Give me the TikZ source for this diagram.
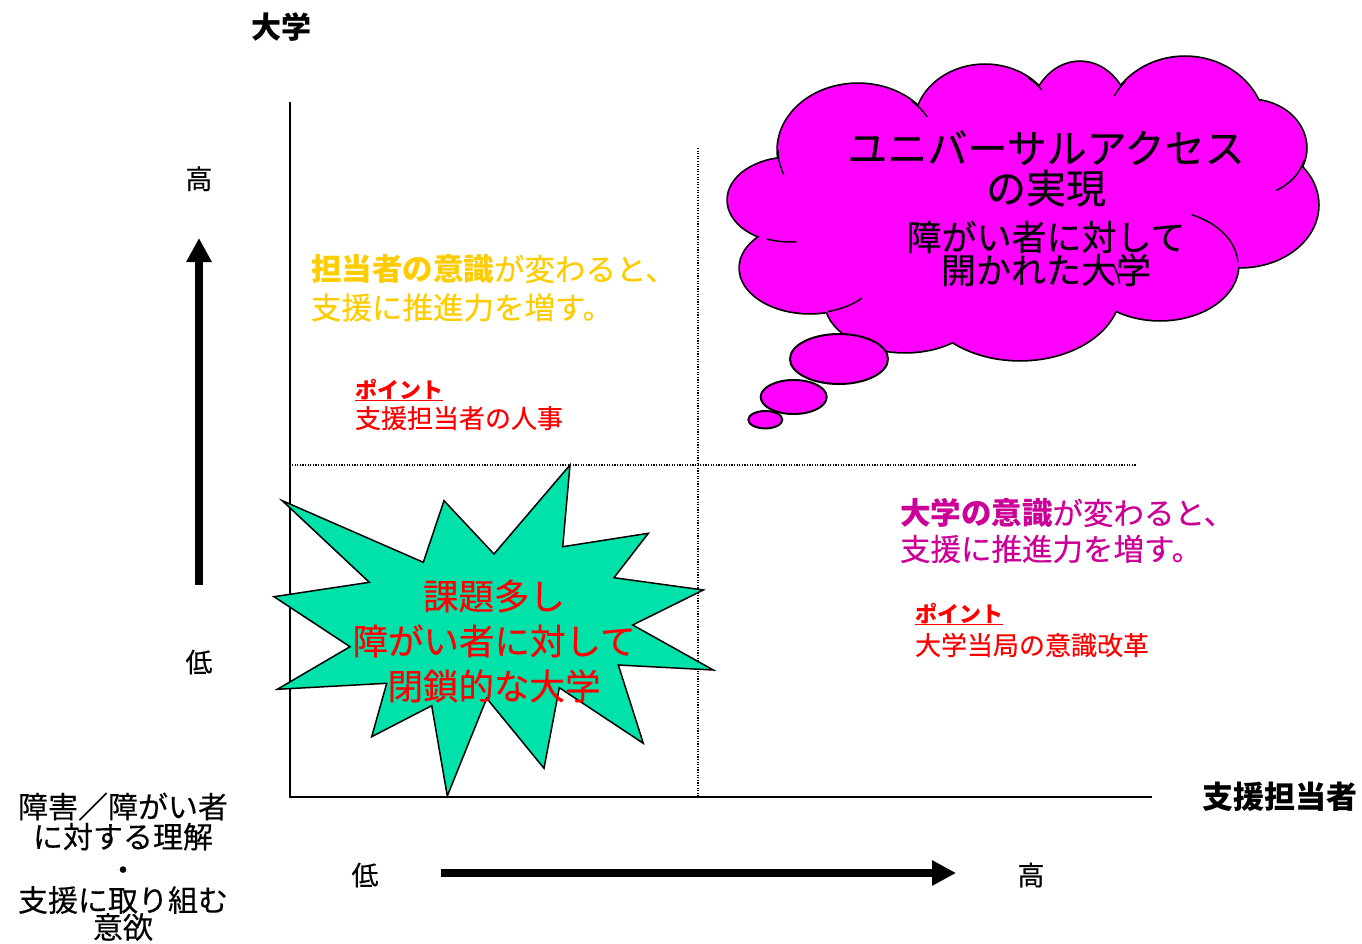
\documentclass[tikz,border=0pt]{standalone}
\usepackage{fontspec}
\setmainfont{Noto Sans CJK JP}[UprightFeatures={FakeBold=0.3}]
\usetikzlibrary{arrows.meta}
\definecolor{starfill}{RGB}{0,226,170}
\definecolor{cloudfill}{RGB}{255,0,255}
\definecolor{gold}{RGB}{255,204,0}
\definecolor{plum}{RGB}{204,0,153}
\newcommand\fsz[2]{\fontsize{#1}{#2}\selectfont}
\begin{document}
\begin{tikzpicture}[x=1pt,y=-1pt,
  lbl/.style={inner sep=0pt,outer sep=0pt},
  axisline/.style={line width=1.5pt},
  dotline/.style={line width=1.1pt,dash pattern=on 1.1pt off 1.5pt},
  bigarrow/.style={line width=8.5pt,-{Triangle[length=24pt,width=24pt]}},
  puffline/.style={line width=1.5pt},
  bubble/.style={fill=cloudfill,draw=black,line width=2pt}]
\useasboundingbox (0,0) rectangle (1362,944);
% axes
\coordinate (ytop) at (290,102);
\coordinate (orig) at (290,797);
\coordinate (xend) at (1152,797);
\draw[axisline] (ytop) -- (orig) -- (xend);
\coordinate (vd0) at (698,148);
\coordinate (vd1) at (698,797);
\coordinate (hd0) at (292,465);
\coordinate (hd1) at (1137,465);
\draw[dotline] (vd0) -- (vd1);
\draw[dotline] (hd0) -- (hd1);
% big arrows
\coordinate (va0) at (199,585);
\coordinate (va1) at (199,238);
\draw[bigarrow] (va0) -- (va1);
\coordinate (ha0) at (441,873);
\coordinate (ha1) at (956,873);
\draw[bigarrow] (ha0) -- (ha1);
% star
\draw[fill=starfill,line width=1.5pt,line join=miter]
 (570,465) -- (562.7,546.7) -- (648.3,533.3) -- (614,577.7) -- (703.3,590) -- (632.7,625)
 -- (713.3,670) -- (618.3,665) -- (643.3,743.3) -- (559.3,687.7) -- (544,768.3) -- (486.7,698.3)
 -- (447.3,796) -- (431.7,705.7) -- (371.7,736.7) -- (386.7,683.3) -- (277.3,689.3) -- (350,646.7)
 -- (274,596.7) -- (369.3,582.3) -- (282.3,500.7) -- (423.3,562.3) -- (444,500.7) -- (494,554) -- cycle;
% cloud
\foreach \cx/\cy/\rx/\ry in {790/200/62/42,858/150/80/66,985/125/70/60,1080/122/50/60,1185/130/80/73,
  1250/148/56/48,1240/205/78/62,1160/265/78/55,1020/290/100/70,905/300/80/52,810/268/70/45}
  \draw[line width=3.5pt] (\cx,\cy) ellipse [x radius=\rx,y radius=\ry];
\foreach \cx/\cy/\rx/\ry in {790/200/62/42,858/150/80/66,985/125/70/60,1080/122/50/60,1185/130/80/73,
  1250/148/56/48,1240/205/78/62,1160/265/78/55,1020/290/100/70,905/300/80/52,810/268/70/45,1020/210/220/110}
  \fill[cloudfill] (\cx,\cy) ellipse [x radius=\rx,y radius=\ry];
% inner arcs of cloud
\draw[puffline] (858,150) ++(180:80 and 66) arc[start angle=180,end angle=158,x radius=80,y radius=66];
\draw[puffline] (790,200) ++(112:62 and 42) arc[start angle=112,end angle=84,x radius=62,y radius=42];
\draw[puffline] (858,150) ++(-48:80 and 66) arc[start angle=-48,end angle=-30,x radius=80,y radius=66];
\draw[puffline] (985,125) ++(-52:70 and 60) arc[start angle=-52,end angle=-36,x radius=70,y radius=60];
\draw[puffline] (1185,130) ++(-138:80 and 73) arc[start angle=-138,end angle=-152,x radius=80,y radius=73];
\draw[puffline] (1250,148) ++(15:56 and 48) arc[start angle=15,end angle=62,x radius=56,y radius=48];
\draw[puffline] (1160,265) ++(-66:78 and 55) arc[start angle=-66,end angle=-3,x radius=78,y radius=55];
\draw[puffline] (1020,290) ++(-5:100 and 70) arc[start angle=-5,end angle=-22,x radius=100,y radius=70];
\draw[puffline] (810,268) ++(75:70 and 45) arc[start angle=75,end angle=42,x radius=70,y radius=45];
% thought bubbles
\draw[bubble] (839,359) ellipse [x radius=49,y radius=25];
\draw[bubble] (793.7,397) ellipse [x radius=33,y radius=17];
\draw[bubble] (765.3,419.7) ellipse [x radius=17,y radius=8.7];
% cloud text
\node[lbl,anchor=base,font=\fsz{40}{44}] (ua1) at (1046,163.2) {ユニバーサルアクセス};
\node[lbl,anchor=base,font=\fsz{40}{44}] (ua2) at (1046,203.2) {の実現};
\node[lbl,anchor=base,font=\fsz{35}{38}] (ua3) at (1046,250.3) {障がい者に対して};
\node[lbl,anchor=base,font=\fsz{35}{38}] (ua4) at (1046,283.3) {開かれた大学};
% star text
\node[lbl,anchor=base,text=red,font=\fsz{35.5}{40}] (st1) at (494,609.5) {課題多し};
\node[lbl,anchor=base,text=red,font=\fsz{35.5}{40}] (st2) at (494,654.5) {障がい者に対して};
\node[lbl,anchor=base,text=red,font=\fsz{35.5}{40}] (st3) at (494,699.5) {閉鎖的な大学};
% axis titles
\node[lbl,anchor=base,font=\bfseries\fsz{30}{34}] (tdaigaku) at (281,38.4) {大学};
\node[lbl,anchor=base,font=\bfseries\fsz{31}{35}] (tshien) at (1280,808.8) {支援担当者};
\node[lbl,anchor=base,font=\fsz{27}{30}] (yhi) at (199,189) {高};
\node[lbl,anchor=base,font=\fsz{27}{30}] (ylo) at (199,672.3) {低};
\node[lbl,anchor=base,font=\fsz{27}{30}] (xlo) at (365,885.3) {低};
\node[lbl,anchor=base,font=\fsz{27}{30}] (xhi) at (1031,885.3) {高};
% bottom-left criterion
\node[lbl,anchor=base,font=\fsz{30}{31}] (cr1) at (123,818) {障害／障がい者};
\node[lbl,anchor=base,font=\fsz{30}{31}] (cr2) at (123,848) {に対する理解};
\node[lbl,anchor=base,font=\fsz{30}{31}] (cr3) at (123,881) {・};
\node[lbl,anchor=base,font=\fsz{30}{31}] (cr4) at (123,911.4) {支援に取り組む};
\node[lbl,anchor=base,font=\fsz{30}{31}] (cr5) at (123,938.4) {意欲};
% yellow statement
\node[lbl,anchor=base west,text=gold,font=\fsz{30.5}{33}] (yl1) at (311,280.6) {{\bfseries 担当者の意識}が変わると、};
\node[lbl,anchor=base west,text=gold,font=\fsz{30.5}{33}] (yl2) at (311,319) {支援に推進力を増す。};
\node[lbl,anchor=base west,text=red,font=\bfseries\fsz{22}{26}] (pt1) at (355,398.4) {ポイント};
\draw[red,line width=1.5pt] ([yshift=-2pt]pt1.base west) -- ([yshift=-2pt]pt1.base east);
\node[lbl,anchor=base west,text=red,font=\fsz{26}{30}] (pt1b) at (355,427.9) {支援担当者の人事};
% magenta statement
\node[lbl,anchor=base west,text=plum,font=\fsz{30.5}{33}] (ml1) at (900,524.5) {{\bfseries 大学の意識}が変わると、};
\node[lbl,anchor=base west,text=plum,font=\fsz{30.5}{33}] (ml2) at (900,560.5) {支援に推進力を増す。};
\node[lbl,anchor=base west,text=red,font=\bfseries\fsz{22}{26}] (pt2) at (915,622.4) {ポイント};
\draw[red,line width=1.5pt] ([yshift=-2pt]pt2.base west) -- ([yshift=-2pt]pt2.base east);
\node[lbl,anchor=base west,text=red,font=\fsz{26}{30}] (pt2b) at (915,654.9) {大学当局の意識改革};
\end{tikzpicture}
\end{document}
